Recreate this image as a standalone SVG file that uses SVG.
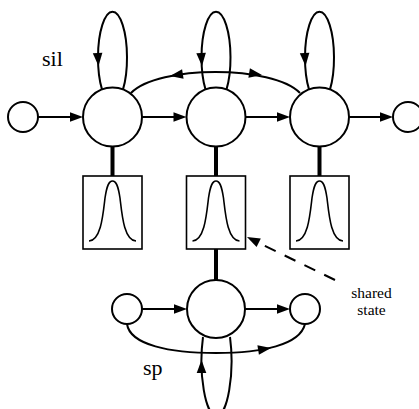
<svg xmlns="http://www.w3.org/2000/svg" xmlns:xlink="http://www.w3.org/1999/xlink" width="419" height="409" viewBox="0 0 419 409">
<style>
.st{fill:#fff;stroke:#000;stroke-width:2}
.ln{fill:none;stroke:#000;stroke-width:2}
.thick{stroke:#000;stroke-width:4}
.box{fill:#fff;stroke:#000;stroke-width:1.6}
.gs{fill:none;stroke:#000;stroke-width:1.6}
.lbl{font-family:"Liberation Serif","Times New Roman",serif;fill:#000}
</style>
<defs>
<path id="ah" d="M0,0 L-13,-4.8 L-13,4.8 Z" fill="#000"/>
<path id="gauss" d="M-23.5,65 C-11.5,64 -9.5,39 -7.5,22 C-5.5,9 -3.5,5 0,5 C3.5,5 5.5,9 7.5,22 C9.5,39 11.5,64 23.5,65"/>
</defs>
<g id="connectors">
<line class="ln" x1="38" y1="117" x2="75" y2="117"/>
<use xlink:href="#ah" transform="translate(83,117)"/>
<line class="ln" x1="142" y1="117" x2="178" y2="117"/>
<use xlink:href="#ah" transform="translate(186.5,117)"/>
<line class="ln" x1="245.5" y1="117" x2="282" y2="117"/>
<use xlink:href="#ah" transform="translate(290,117)"/>
<line class="ln" x1="349" y1="117" x2="385" y2="117"/>
<use xlink:href="#ah" transform="translate(393,117)"/>
<path class="ln" d="M102,89.4 A14.5 46 0 1 1 123,89.4"/>
<use xlink:href="#ah" transform="translate(98.5,66) rotate(86)"/>
<path class="ln" d="M205.5,89.4 A14.5 46 0 1 1 226.5,89.4"/>
<use xlink:href="#ah" transform="translate(202,66) rotate(86)"/>
<path class="ln" d="M309,89.4 A14.5 46 0 1 1 330,89.4"/>
<use xlink:href="#ah" transform="translate(305.5,66) rotate(86)"/>
<path class="ln" d="M131,93 C158,65 273,65 300,93"/>
<use xlink:href="#ah" transform="translate(170,76) rotate(171)"/>
<use xlink:href="#ah" transform="translate(262,75) rotate(9)"/>
<line class="thick" x1="112.5" y1="146" x2="112.5" y2="176"/>
<line class="thick" x1="216" y1="146" x2="216" y2="176"/>
<line class="thick" x1="319.5" y1="146" x2="319.5" y2="176"/>
<line class="thick" x1="216" y1="249" x2="216" y2="280"/>
<line class="ln" x1="142" y1="309" x2="179" y2="309"/>
<use xlink:href="#ah" transform="translate(187,309)"/>
<line class="ln" x1="245" y1="309" x2="282" y2="309"/>
<use xlink:href="#ah" transform="translate(290,309)"/>
<path class="ln" d="M127,324 C130,345 170,353 216,353 C262,353 300,345 305,324"/>
<use xlink:href="#ah" transform="translate(271,348) rotate(-9)"/>
<path class="ln" d="M203,337 A15 55 0 1 0 230,337"/>
<use xlink:href="#ah" transform="translate(201.5,360) rotate(-90)"/>
<line class="ln" x1="335" y1="280" x2="259" y2="243" stroke-dasharray="12 10" stroke-width="1.6"/>
<use xlink:href="#ah" transform="translate(247,237) rotate(206)"/>
</g>
<g id="sil-entry"><circle class="st" cx="23" cy="117" r="15"/></g>
<g id="sil-s2"><circle class="st" cx="112.5" cy="117" r="29.5"/></g>
<g id="sil-s3"><circle class="st" cx="216" cy="117" r="29.5"/></g>
<g id="sil-s4"><circle class="st" cx="319.5" cy="117" r="29.5"/></g>
<g id="sil-exit"><circle class="st" cx="408" cy="117" r="15"/></g>
<g id="pdf1"><rect class="box" x="83" y="176" width="59" height="73"/><use xlink:href="#gauss" class="gs" transform="translate(112.5,176)"/></g>
<g id="pdf2"><rect class="box" x="186.5" y="176" width="59" height="73"/><use xlink:href="#gauss" class="gs" transform="translate(216,176)"/></g>
<g id="pdf3"><rect class="box" x="290" y="176" width="59" height="73"/><use xlink:href="#gauss" class="gs" transform="translate(319.5,176)"/></g>
<g id="sp-entry"><circle class="st" cx="127" cy="309" r="15"/></g>
<g id="sp-s2"><circle class="st" cx="216" cy="309" r="29"/></g>
<g id="sp-exit"><circle class="st" cx="305" cy="309" r="15"/></g>
<g id="labels">
<text class="lbl" x="42" y="66" font-size="22">sil</text>
<text class="lbl" x="143" y="375" font-size="22">sp</text>
<text class="lbl" x="371.5" y="298" font-size="15.5" text-anchor="middle">shared</text>
<text class="lbl" x="371.5" y="315" font-size="15.5" text-anchor="middle">state</text>
</g>
</svg>
